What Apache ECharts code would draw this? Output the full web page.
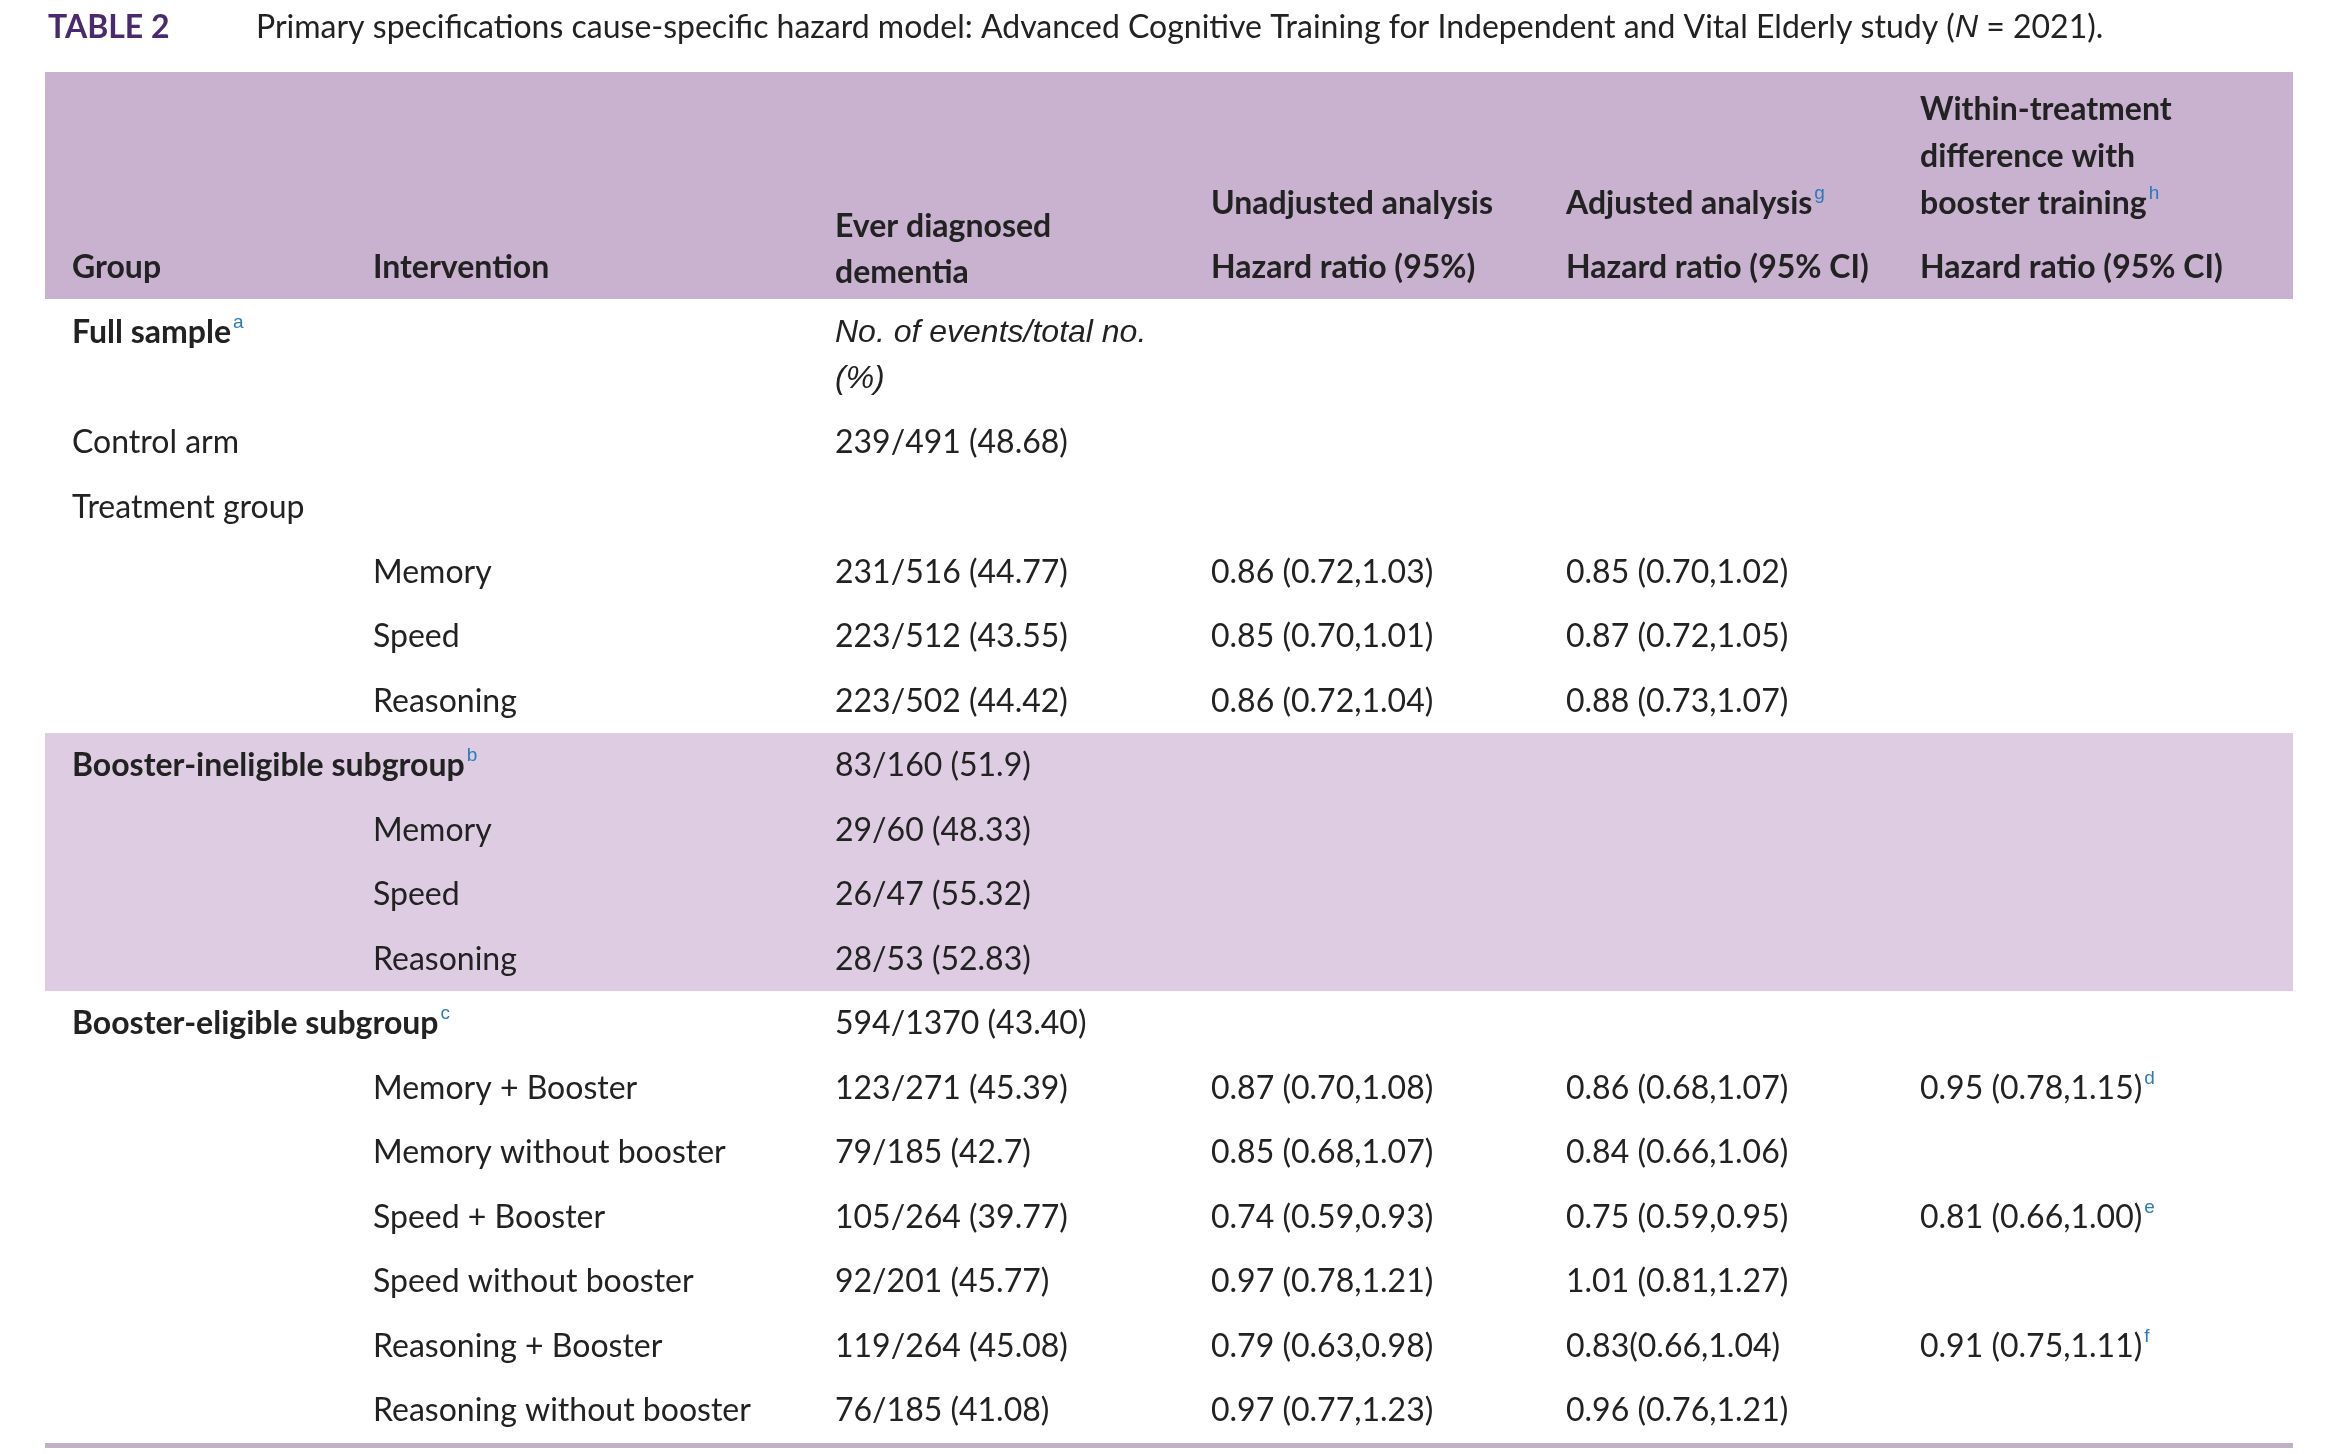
<!DOCTYPE html>
<html><head><meta charset="utf-8">
<script src="https://cdn.jsdelivr.net/npm/echarts@6/dist/echarts.min.js"></script>
<style>html,body{margin:0;padding:0;background:#fff}#main{width:2338px;height:1454px}</style>
</head><body><div id="main"></div>
<script>
// table rows
var groups = ['Full sample{s|a}', '', 'Control arm', 'Treatment group', '', '', '', 'Booster-ineligible subgroup{s|b}', '', '', '', 'Booster-eligible subgroup{s|c}', '', '', '', '', '', ''];
var boldRows = [0, 7, 11];
var interventions = ['', '', '', '', 'Memory', 'Speed', 'Reasoning', '', 'Memory', 'Speed', 'Reasoning', '', 'Memory + Booster', 'Memory without booster', 'Speed + Booster', 'Speed without booster', 'Reasoning + Booster', 'Reasoning without booster'];
var events = ['{i|No. of events/total no.}', '{i|(%)}', '239/491 (48.68)', '', '231/516 (44.77)', '223/512 (43.55)', '223/502 (44.42)', '83/160 (51.9)', '29/60 (48.33)', '26/47 (55.32)', '28/53 (52.83)', '594/1370 (43.40)', '123/271 (45.39)', '79/185 (42.7)', '105/264 (39.77)', '92/201 (45.77)', '119/264 (45.08)', '76/185 (41.08)'];
var unadjusted = ['', '', '', '', '0.86 (0.72,1.03)', '0.85 (0.70,1.01)', '0.86 (0.72,1.04)', '', '', '', '', '', '0.87 (0.70,1.08)', '0.85 (0.68,1.07)', '0.74 (0.59,0.93)', '0.97 (0.78,1.21)', '0.79 (0.63,0.98)', '0.97 (0.77,1.23)'];
var adjusted = ['', '', '', '', '0.85 (0.70,1.02)', '0.87 (0.72,1.05)', '0.88 (0.73,1.07)', '', '', '', '', '', '0.86 (0.68,1.07)', '0.84 (0.66,1.06)', '0.75 (0.59,0.95)', '1.01 (0.81,1.27)', '0.83(0.66,1.04)', '0.96 (0.76,1.21)'];
var within = ['', '', '', '', '', '', '', '', '', '', '', '', '0.95 (0.78,1.15){s|d}', '', '0.81 (0.66,1.00){s|e}', '', '0.91 (0.75,1.11){s|f}', ''];
var rowY = [333, 379, 443, 508, 573, 637, 702, 766, 831, 895, 960, 1024, 1089, 1153, 1218, 1282, 1347, 1411];

var colX = [72, 373, 835, 1211, 1566, 1920];
var font = 'Lato, "Open Sans", sans-serif';
var rich = {
    s: { fontSize: 19, fill: '#2a7ab8', verticalAlign: 'top', lineHeight: 40, padding: [0, 0, 14, 2] },
    i: { fontStyle: 'italic', fontSize: 32, fill: '#222' },
    n: { fontStyle: 'italic', fontSize: 32, fill: '#222' }
};

function txt(x, y, s, bold) {
    return {
        type: 'text', x: x, y: y,
        style: { text: s, fill: '#222', font: (bold ? 'bold ' : '') + '32px ' + font,
            fontFamily: font, fontSize: 32, fontWeight: bold ? 'bold' : 'normal',
            verticalAlign: 'middle', rich: rich }
    };
}

var els = [];
els.push({ type: 'rect', shape: { x: 45, y: 72, width: 2248, height: 227 }, style: { fill: '#c9b2cf' } });
els.push({ type: 'rect', shape: { x: 45, y: 733, width: 2248, height: 258 }, style: { fill: '#decce3' } });
els.push({ type: 'rect', shape: { x: 45, y: 1443, width: 2248, height: 5 }, style: { fill: '#c0b0c8' } });

els.push({ type: 'text', x: 48, y: 28, style: { text: 'TABLE 2', fill: '#4a2a6e', fontFamily: font, fontSize: 32, fontWeight: 'bold', verticalAlign: 'middle' } });
els.push({ type: 'text', x: 256, y: 28, style: { text: 'Primary specifications cause-specific hazard model: Advanced Cognitive Training for Independent and Vital Elderly study ({n|N} = 2021).', fill: '#222', fontFamily: font, fontSize: 32, verticalAlign: 'middle', rich: rich } });

// header
var hdr = [
    [0, 268, 'Group'], [1, 268, 'Intervention'],
    [2, 227, 'Ever diagnosed'], [2, 273, 'dementia'],
    [3, 204, 'Unadjusted analysis'], [3, 268, 'Hazard ratio (95%)'],
    [4, 204, 'Adjusted analysis{s|g}'], [4, 268, 'Hazard ratio (95% CI)'],
    [5, 110, 'Within-treatment'], [5, 157, 'difference with'], [5, 204, 'booster training{s|h}'], [5, 268, 'Hazard ratio (95% CI)']
];
hdr.forEach(function(h) { els.push(txt(colX[h[0]], h[1], h[2], true)); });

var cols = [groups, interventions, events, unadjusted, adjusted, within];
rowY.forEach(function(y, r) {
    cols.forEach(function(c, k) {
        if (c[r]) els.push(txt(colX[k], y, c[r], k === 0 && boldRows.indexOf(r) >= 0));
    });
});

var chart = echarts.init(document.getElementById('main'));
chart.setOption({ backgroundColor: '#fff', graphic: { elements: els } });
</script>
</body></html>
